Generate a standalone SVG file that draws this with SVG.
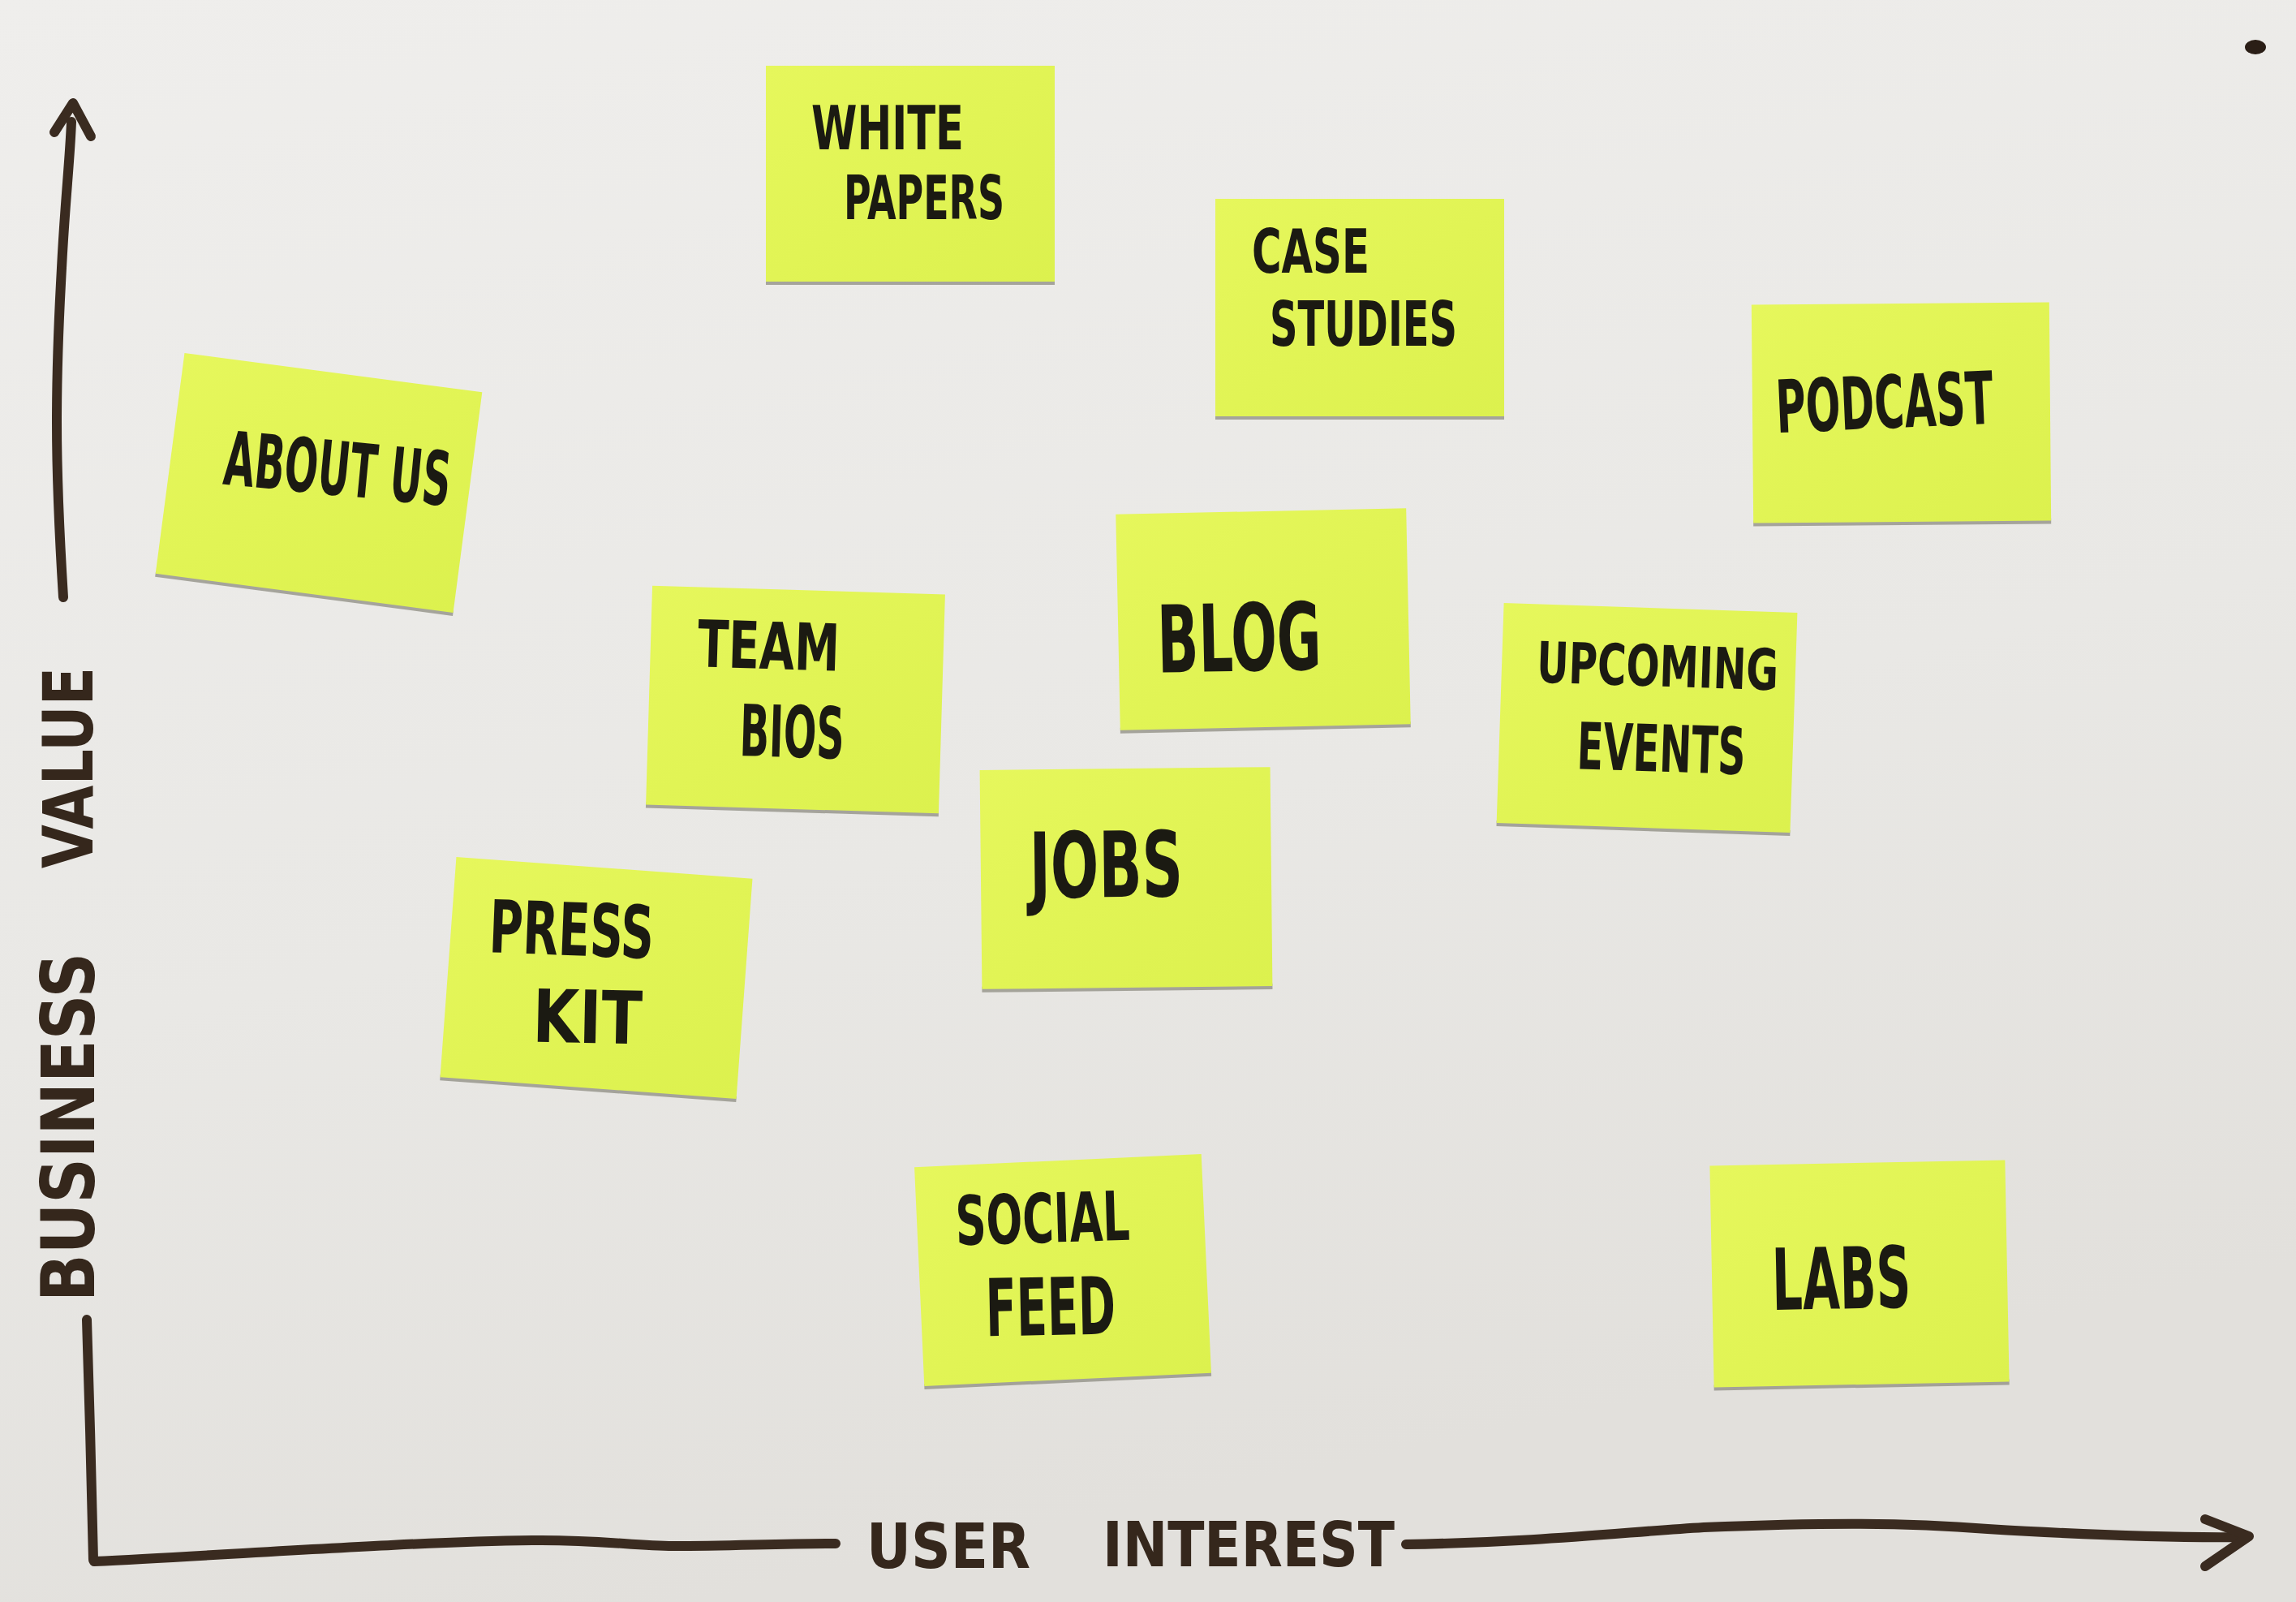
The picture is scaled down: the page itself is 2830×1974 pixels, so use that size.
<svg xmlns="http://www.w3.org/2000/svg" width="2830" height="1974" viewBox="0 0 2830 1974">
<defs>
<linearGradient id="board" x1="0" y1="0" x2="0.3" y2="1">
<stop offset="0" stop-color="#efeeec"/>
<stop offset="0.6" stop-color="#e9e8e5"/>
<stop offset="1" stop-color="#e2e0dc"/>
</linearGradient>
<linearGradient id="paper" x1="0" y1="0" x2="1" y2="1">
<stop offset="0" stop-color="#e6f75c"/>
<stop offset="1" stop-color="#dcf14e"/>
</linearGradient>
<style>
.note{fill:url(#paper);}
.shadow{fill:#8e8c82;opacity:0.75;}
.t{font-family:"Liberation Sans Narrow","DejaVu Sans Condensed","Liberation Sans",sans-serif;font-weight:bold;fill:#1b1a12;}
.ax{fill:none;stroke:#3a2b20;stroke-width:12;stroke-linecap:round;stroke-linejoin:round;}
.axl{font-family:"Liberation Sans Narrow","DejaVu Sans Condensed","Liberation Sans",sans-serif;font-weight:bold;fill:#35271c;}
</style>
</defs>
<rect width="2830" height="1974" fill="url(#board)"/>

<g id="axes">
<path class="ax" d="M 78 736 C 72 640, 70 560, 70 520 C 70 430, 74 370, 76 330 C 80 250, 86 200, 88 150"/>
<path class="ax" d="M 67 163 L 90 127 L 112 168"/>
<path class="ax" stroke-width="10" d="M 107 1626 C 110 1720, 113 1830, 115 1922"/>
<path class="ax" d="M 116 1924 C 300 1915, 500 1900, 656 1898 C 740 1897, 780 1905, 830 1905 C 900 1905, 960 1902, 1030 1902"/>
<path class="ax" d="M 1733 1903 C 1900 1900, 2000 1888, 2100 1882 C 2250 1876, 2350 1876, 2450 1884 C 2600 1893, 2700 1895, 2770 1894"/>
<path class="ax" d="M 2718 1872 L 2772 1893 L 2718 1930"/>
<ellipse cx="2780" cy="58" rx="13" ry="9" fill="#2a1e16"/>
</g>

<g id="axis-labels">
<text class="axl" font-size="90" transform="translate(116,1604) rotate(-90)" textLength="430" lengthAdjust="spacingAndGlyphs">BUSINESS</text>
<text class="axl" font-size="86" transform="translate(114,1070) rotate(-90)" textLength="248" lengthAdjust="spacingAndGlyphs">VALUE</text>
<text class="axl" font-size="76" x="1068" y="1932" textLength="202" lengthAdjust="spacingAndGlyphs">USER</text>
<text class="axl" font-size="76" x="1359" y="1930" textLength="360" lengthAdjust="spacingAndGlyphs">INTEREST</text>
</g>

<g id="note-white-papers">
<rect class="shadow" x="944" y="344" width="356" height="7"/>
<rect class="note" x="944" y="81" width="356" height="266"/>
<text class="t" font-size="75" x="1000" y="184" textLength="188" lengthAdjust="spacingAndGlyphs">WHITE</text>
<text class="t" font-size="75" x="1040" y="270" textLength="198" lengthAdjust="spacingAndGlyphs">PAPERS</text>
</g>

<g id="note-case-studies">
<rect class="shadow" x="1498" y="510" width="356" height="7"/>
<rect class="note" x="1498" y="245" width="356" height="268"/>
<text class="t" font-size="74" x="1543" y="336" textLength="145" lengthAdjust="spacingAndGlyphs">CASE</text>
<text class="t" font-size="76" x="1565" y="426" textLength="231" lengthAdjust="spacingAndGlyphs">STUDIES</text>
</g>

<g id="note-podcast" transform="rotate(-0.5 2343 509)">
<rect class="shadow" x="2160" y="640" width="367" height="7"/>
<rect class="note" x="2160" y="374" width="367" height="269"/>
<text class="t" font-size="90" x="2190" y="532" textLength="268" lengthAdjust="spacingAndGlyphs" transform="rotate(-2 2190 532)">PODCAST</text>
</g>

<g id="note-about-us" transform="rotate(7.5 393 595)">
<rect class="shadow" x="208" y="729" width="370" height="7"/>
<rect class="note" x="208" y="458" width="370" height="274"/>
<text class="t" font-size="92" x="275" y="612" textLength="280" lengthAdjust="spacingAndGlyphs" transform="rotate(-2 275 612)">ABOUT US</text>
</g>

<g id="note-team-bios" transform="rotate(1.7 981 862)">
<rect class="shadow" x="800" y="994" width="361" height="7"/>
<rect class="note" x="800" y="727" width="361" height="270"/>
<text class="t" font-size="80" x="858" y="825" textLength="175" lengthAdjust="spacingAndGlyphs">TEAM</text>
<text class="t" font-size="88" x="913" y="933" textLength="129" lengthAdjust="spacingAndGlyphs">BIOS</text>
</g>

<g id="note-blog" transform="rotate(-1.2 1557 763)">
<rect class="shadow" x="1378" y="893" width="358" height="7"/>
<rect class="note" x="1378" y="630" width="358" height="266"/>
<text class="t" font-size="115" x="1426" y="826" textLength="202" lengthAdjust="spacingAndGlyphs">BLOG</text>
</g>

<g id="note-upcoming-events" transform="rotate(1.9 2030 885)">
<rect class="shadow" x="1849" y="1017" width="362" height="7"/>
<rect class="note" x="1849" y="749" width="362" height="271"/>
<text class="t" font-size="70" x="1892" y="845" textLength="298" lengthAdjust="spacingAndGlyphs">UPCOMING</text>
<text class="t" font-size="80" x="1945" y="950" textLength="208" lengthAdjust="spacingAndGlyphs">EVENTS</text>
</g>

<g id="note-jobs" transform="rotate(-0.6 1388 1082)">
<rect class="shadow" x="1209" y="1214" width="358" height="7"/>
<rect class="note" x="1209" y="947" width="358" height="270"/>
<text class="t" font-size="112" x="1269" y="1105" textLength="189" lengthAdjust="spacingAndGlyphs">JOBS</text>
</g>

<g id="note-press-kit" transform="rotate(4.2 735 1205)">
<rect class="shadow" x="552" y="1338" width="366" height="7"/>
<rect class="note" x="552" y="1069" width="366" height="272"/>
<text class="t" font-size="90" x="600" y="1183" textLength="203" lengthAdjust="spacingAndGlyphs" transform="rotate(-2 600 1183)">PRESS</text>
<text class="t" font-size="90" x="662" y="1289" textLength="135" lengthAdjust="spacingAndGlyphs" transform="rotate(-3 662 1289)">KIT</text>
</g>

<g id="note-social-feed" transform="rotate(-2.6 1310 1565)">
<rect class="shadow" x="1133" y="1697" width="354" height="7"/>
<rect class="note" x="1133" y="1430" width="354" height="270"/>
<text class="t" font-size="84" x="1180" y="1528" textLength="215" lengthAdjust="spacingAndGlyphs" transform="rotate(1 1180 1528)">SOCIAL</text>
<text class="t" font-size="98" x="1212" y="1642" textLength="160" lengthAdjust="spacingAndGlyphs" transform="rotate(1.5 1212 1642)">FEED</text>
</g>

<g id="note-labs" transform="rotate(-1.1 2292 1570)">
<rect class="shadow" x="2110" y="1703" width="364" height="7"/>
<rect class="note" x="2110" y="1433" width="364" height="273"/>
<text class="t" font-size="105" x="2184" y="1612" textLength="171" lengthAdjust="spacingAndGlyphs">LABS</text>
</g>
</svg>
